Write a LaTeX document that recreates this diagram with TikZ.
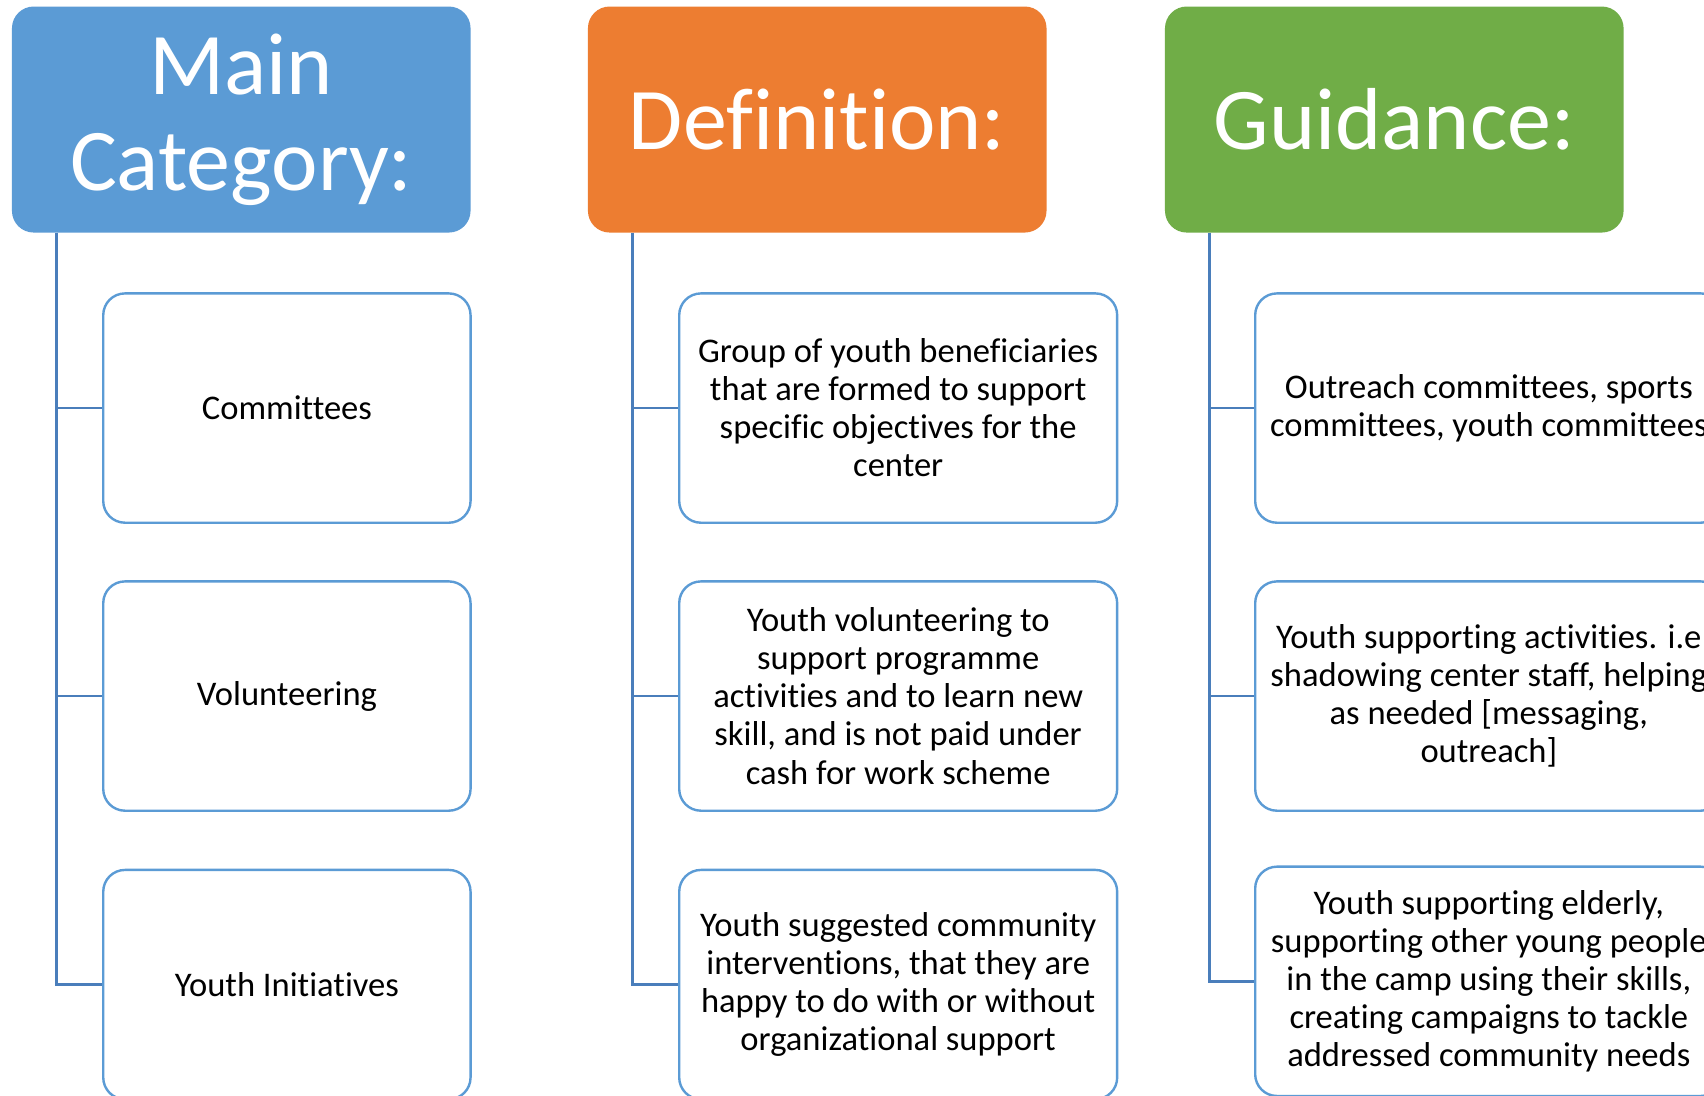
\documentclass[tikz,border=0pt]{standalone}
\usepackage{fontspec}
\setmainfont{Carlito}[Ligatures={NoCommon}]
\definecolor{hblue}{HTML}{5B9BD5}
\definecolor{horange}{HTML}{ED7D31}
\definecolor{hgreen}{HTML}{70AD47}
\definecolor{lineblue}{HTML}{4A7EBB}
\begin{document}
\begin{tikzpicture}[x=1pt,y=-1pt,
  hdr/.style={rectangle, rounded corners=20pt, minimum width=422pt, minimum height=208pt,
    inner sep=0pt, text=white, align=center, font=\fontsize{81}{88}\selectfont},
  item/.style={rectangle, rounded corners=20pt, draw=hblue, line width=2.2pt, fill=white,
    minimum height=211pt, inner sep=0pt, text=black, align=center,
    font=\fontsize{31.8}{35}\selectfont},
  itemm/.style={item, minimum width=338pt},
  itemd/.style={item, minimum width=403pt},
  itemg/.style={item, minimum width=430pt},
  conn/.style={draw=lineblue, line width=2.4pt}]
\useasboundingbox (0,0) rectangle (1568,1008);
\clip (0,0) rectangle (1568,1008);
\fill[white] (0,0) rectangle (1568,1008);
% headers
\node[hdr, fill=hblue] (hm) at (222,110) {Main\\Category:};
\node[hdr, fill=horange] (hd) at (752,110) {Definition:};
\node[hdr, fill=hgreen] (hg) at (1283,110) {Guidance:};
% main category items
\node[itemm] (m1) at (264,375.5) {Committees};
\node[itemm] (m2) at (264,640.5) {Volunteering};
\node[itemm] (m3) at (264,906) {Youth Initiatives};
% definition items
\node[itemd] (d1) at (826.5,375.5) {Group of youth beneficiaries\\that are formed to support\\specific objectives for the\\center};
\node[itemd] (d2) at (826.5,640.5) {Youth volunteering to\\support programme\\activities and to learn new\\skill, and is not paid under\\cash for work scheme};
\node[itemd] (d3) at (826.5,906) {Youth suggested community\\interventions, that they are\\happy to do with or without\\organizational support};
% guidance items
\node[itemg] (g1) at (1370,375.5) {Outreach committees, sports\\committees, youth committees};
\node[itemg] (g2) at (1370,640.5) {Youth supporting activities. i.e\\shadowing center staff, helping\\as needed [messaging,\\outreach]};
\node[itemg] (g3) at (1370,903) {Youth supporting elderly,\\supporting other young people\\in the camp using their skills,\\creating campaigns to tackle\\addressed community needs};
% connectors
\draw[conn] ([xshift=41pt]hm.south west) |- (m3.west);
\draw[conn] ([xshift=41pt]hm.south west) |- (m1.west);
\draw[conn] ([xshift=41pt]hm.south west) |- (m2.west);
\draw[conn] ([xshift=41pt]hd.south west) |- (d3.west);
\draw[conn] ([xshift=41pt]hd.south west) |- (d1.west);
\draw[conn] ([xshift=41pt]hd.south west) |- (d2.west);
\draw[conn] ([xshift=41pt]hg.south west) |- (g3.west);
\draw[conn] ([xshift=41pt]hg.south west) |- (g1.west);
\draw[conn] ([xshift=41pt]hg.south west) |- (g2.west);
\end{tikzpicture}
\end{document}
